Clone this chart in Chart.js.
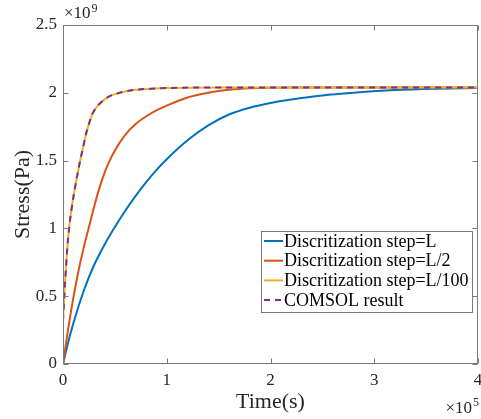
<!DOCTYPE html>
<html>
<head>
<meta charset="utf-8">
<script src="https://cdn.jsdelivr.net/npm/chart.js@4.4.0/dist/chart.umd.min.js"></script>
<style>
  html, body { margin: 0; padding: 0; background: #fff; }
</style>
</head>
<body>
<canvas id="stressChart" width="481" height="419"></canvas>
<script>
// time in units of 1e5 s, stress in units of 1e9 Pa
const tStepL = [0, 0.05, 0.1, 0.2, 0.3, 0.4, 0.5, 0.6, 0.7, 0.8, 0.9, 1.0, 1.2, 1.4, 1.6, 1.8, 2.0, 2.2, 2.5, 2.8, 3.2, 3.6, 4.0];
const sStepL = [0, 0.16, 0.30, 0.54, 0.73, 0.88, 1.01, 1.13, 1.24, 1.34, 1.43, 1.51, 1.65, 1.76, 1.84, 1.89, 1.925, 1.95, 1.98, 2.0, 2.02, 2.03, 2.035];

const tStepHalf = [0, 0.05, 0.1, 0.15, 0.2, 0.25, 0.3, 0.35, 0.4, 0.45, 0.5, 0.6, 0.7, 0.8, 0.9, 1.0, 1.2, 1.4, 1.6, 1.8, 2.2, 4.0];
const sStepHalf = [0, 0.26, 0.49, 0.69, 0.86, 1.01, 1.16, 1.295, 1.41, 1.50, 1.575, 1.69, 1.77, 1.825, 1.87, 1.905, 1.965, 2.0, 2.022, 2.033, 2.04, 2.04];

const tStep100 = [0, 0.02, 0.04, 0.06, 0.08, 0.1, 0.12, 0.14, 0.16, 0.18, 0.2, 0.22, 0.25, 0.28, 0.32, 0.36, 0.4, 0.45, 0.5, 0.6, 0.7, 0.85, 1.0, 1.5, 4.0];
const sStep100 = [0.32, 0.6, 0.84, 1.01, 1.13, 1.23, 1.32, 1.40, 1.48, 1.55, 1.62, 1.69, 1.77, 1.84, 1.89, 1.925, 1.95, 1.975, 1.99, 2.01, 2.022, 2.03, 2.035, 2.04, 2.04];

const tComsol = [0, 0.02, 0.04, 0.06, 0.08, 0.1, 0.12, 0.14, 0.16, 0.18, 0.2, 0.22, 0.25, 0.28, 0.32, 0.36, 0.4, 0.45, 0.5, 0.6, 0.7, 0.85, 1.0, 1.5, 4.0];
const sComsol = [0.32, 0.6, 0.84, 1.01, 1.13, 1.23, 1.32, 1.40, 1.48, 1.55, 1.62, 1.69, 1.77, 1.84, 1.89, 1.925, 1.95, 1.975, 1.99, 2.01, 2.022, 2.03, 2.035, 2.04, 2.04];

const xTickLabels = ['0', '1', '2', '3', '4'];
const yTickLabels = ['0', '0.5', '1', '1.5', '2', '2.5'];

const serif = "'Liberation Serif', 'DejaVu Serif', serif";
const axisGray = '#7a7a7a';

function pts(ts, vs) {
  return ts.map((t, i) => ({ x: t, y: vs[i] }));
}

// box, inward ticks, exponent labels and the legend, matlab style
const matlabFrame = {
  id: 'matlabFrame',
  afterDatasetsDraw(chart) {
    const { ctx, chartArea: a, scales: { x, y } } = chart;
    const L = Math.round(a.left) + 0.5, R = Math.round(a.right) - 0.5;
    const T = Math.round(a.top) + 0.5, B = Math.round(a.bottom) - 0.5;
    ctx.save();
    ctx.strokeStyle = axisGray;
    ctx.lineWidth = 1;
    ctx.strokeRect(L, T, R - L, B - T);
    ctx.beginPath();
    x.ticks.forEach(tk => {
      const px = Math.round(x.getPixelForValue(tk.value)) + 0.5;
      ctx.moveTo(px, B); ctx.lineTo(px, B - 5);
      ctx.moveTo(px, T); ctx.lineTo(px, T + 5);
    });
    y.ticks.forEach(tk => {
      const py = Math.round(y.getPixelForValue(tk.value)) + 0.5;
      ctx.moveTo(L, py); ctx.lineTo(L + 5, py);
      ctx.moveTo(R, py); ctx.lineTo(R - 5, py);
    });
    ctx.stroke();

    // exponent labels
    ctx.fillStyle = '#262626';
    ctx.textBaseline = 'alphabetic';
    ctx.textAlign = 'left';
    ctx.font = '17px ' + serif;
    ctx.fillText('×10', a.left + 1, a.top - 7);
    let w = ctx.measureText('×10').width;
    ctx.font = '12px ' + serif;
    ctx.fillText('9', a.left + 1 + w + 1, a.top - 13);

    ctx.font = '17px ' + serif;
    w = ctx.measureText('×10').width;
    ctx.fillText('×10', chart.width - 9 - w, 413);
    ctx.font = '12px ' + serif;
    ctx.fillText('5', chart.width - 8, 406);

    // legend
    const lx = 261, ly = 231, lw = 211, lh = 81, rowH = 19.7;
    ctx.fillStyle = '#fff';
    ctx.fillRect(lx, ly, lw, lh);
    ctx.strokeStyle = axisGray;
    ctx.strokeRect(lx + 0.5, ly + 0.5, lw, lh);
    ctx.font = '18px ' + serif;
    ctx.textBaseline = 'middle';
    chart.data.datasets.forEach((ds, i) => {
      const cy = ly + 10 + i * rowH;
      ctx.beginPath();
      ctx.strokeStyle = ds.borderColor;
      ctx.lineWidth = 2;
      ctx.setLineDash(ds.borderDash || []);
      ctx.moveTo(lx + 3, cy);
      ctx.lineTo(lx + 22, cy);
      ctx.stroke();
      ctx.setLineDash([]);
      ctx.fillStyle = '#000';
      ctx.fillText(ds.label, lx + 23, cy + 1);
    });
    ctx.restore();
  }
};

const ctx = document.getElementById('stressChart').getContext('2d');

new Chart(ctx, {
  type: 'line',
  data: {
    datasets: [{
      label: 'Discritization step=L',
      data: pts(tStepL, sStepL),
      borderColor: '#0072BD',
      order: 4
    }, {
      label: 'Discritization step=L/2',
      data: pts(tStepHalf, sStepHalf),
      borderColor: '#D95319',
      order: 3
    }, {
      label: 'Discritization step=L/100',
      data: pts(tStep100, sStep100),
      borderColor: '#EDB120',
      order: 2
    }, {
      label: 'COMSOL result',
      data: pts(tComsol, sComsol),
      borderColor: '#7E2F8E',
      borderDash: [6, 5],
      order: 1
    }]
  },
  options: {
    responsive: false,
    animation: false,
    layout: { padding: { left: 0, right: 3, top: 25, bottom: 0 } },
    elements: {
      point: { radius: 0 },
      line: { borderWidth: 2, cubicInterpolationMode: 'monotone', fill: false }
    },
    plugins: {
      legend: { display: false },
      tooltip: { enabled: false }
    },
    scales: {
      x: {
        type: 'linear',
        min: 0,
        max: 4,
        grid: { display: false, drawTicks: false },
        border: { display: false },
        ticks: {
          stepSize: 1,
          padding: 6,
          color: '#262626',
          font: { family: serif, size: 17 },
          maxRotation: 0,
          callback: v => xTickLabels[v]
        },
        title: {
          display: true,
          text: 'Time(s)',
          color: '#262626',
          font: { family: serif, size: 22 },
          padding: { top: 0, bottom: 4 }
        },
        afterFit(s) { s.height = 55; s.paddingLeft = 0; s.paddingRight = 0; }
      },
      y: {
        min: 0,
        max: 2.5,
        grid: { display: false, drawTicks: false },
        border: { display: false },
        ticks: {
          stepSize: 0.5,
          padding: 6,
          color: '#262626',
          font: { family: serif, size: 17 },
          callback: v => yTickLabels[Math.round(v * 2)]
        },
        title: {
          display: true,
          text: 'Stress(Pa)',
          color: '#262626',
          font: { family: serif, size: 22 },
          padding: { top: 10, bottom: 0 }
        },
        afterFit(s) { s.width = 63; s.paddingTop = 0; s.paddingBottom = 0; }
      }
    }
  },
  plugins: [matlabFrame]
});
</script>
</body>
</html>
